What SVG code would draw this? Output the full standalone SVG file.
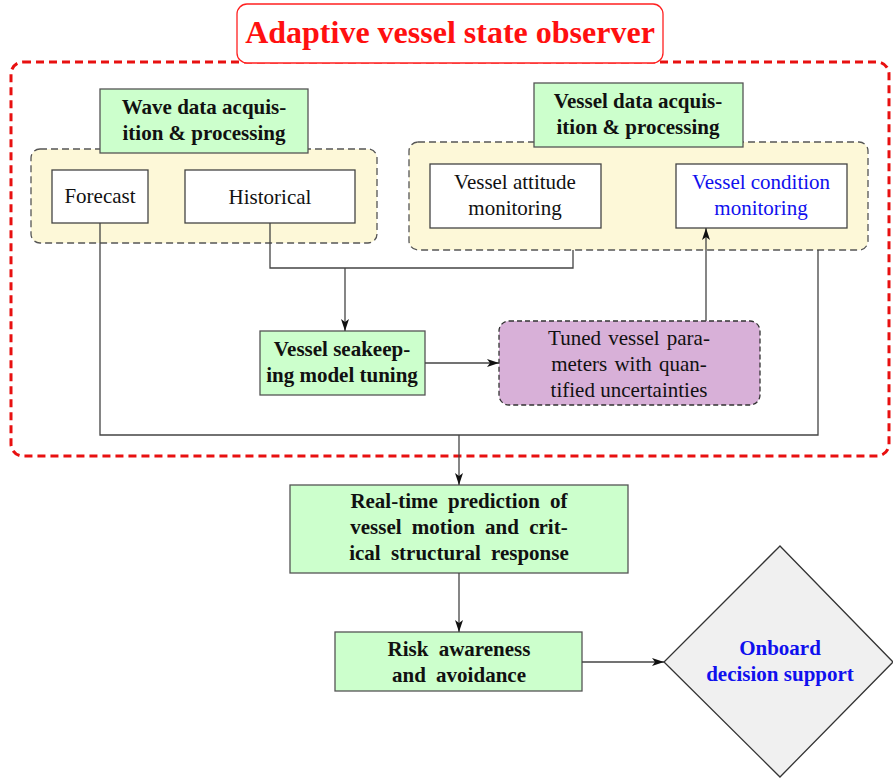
<svg xmlns="http://www.w3.org/2000/svg" width="893" height="780" viewBox="0 0 893 780">
  <defs>
    <marker id="arr" viewBox="0 0 12 8" refX="12" refY="4" markerWidth="12" markerHeight="8" markerUnits="userSpaceOnUse" orient="auto">
      <path d="M0,0 L12,4 L0,8 L3,4 Z" fill="#111"/>
    </marker>
  </defs>
  <style>
    text { font-family: 'Liberation Serif', 'DejaVu Serif', serif; font-size: 21px; text-anchor: middle; fill: #111; }
    .b { font-weight: bold; }
    .green { fill: #ccffcc; stroke: #555; stroke-width: 1.3; }
    .white { fill: #fff; stroke: #444; stroke-width: 1.3; }
    .group { fill: #fdf8d8; stroke: #555; stroke-width: 1.3; stroke-dasharray: 7 4; }
    .conn { fill: none; stroke: #444; stroke-width: 1.3; }
    .blue { fill: #1010ee; }
  </style>
  <rect width="893" height="780" fill="#fff"/>

  <!-- outer observer frame -->
  <g id="observer">
    <rect x="11" y="62" width="878" height="394" rx="12" fill="none" stroke="#e81010" stroke-width="3" stroke-dasharray="8 5"/>
    <rect x="237" y="4" width="426" height="59" rx="10" fill="#fff" stroke="#ff2020" stroke-width="1.3"/>
    <text x="450" y="43" class="b" style="font-size:32px;fill:#ff1010">Adaptive vessel state observer</text>
  </g>

  <!-- wave data group -->
  <g id="wave-data">
    <rect x="31" y="149" width="346" height="94" rx="9" class="group"/>
    <rect x="100" y="89" width="208" height="64" class="green"/>
    <text x="204" y="114" class="b">Wave data acquis-</text>
    <text x="204" y="140" class="b">ition &amp; processing</text>
  </g>
  <g id="forecast">
    <rect x="52" y="170" width="96" height="53" class="white"/>
    <text x="100" y="203">Forecast</text>
  </g>
  <g id="historical">
    <rect x="185" y="170" width="170" height="53" class="white"/>
    <text x="270" y="204">Historical</text>
  </g>

  <!-- vessel data group -->
  <g id="vessel-data">
    <rect x="409" y="142" width="459" height="108" rx="9" class="group"/>
    <rect x="534" y="83" width="209" height="64" class="green"/>
    <text x="638" y="108" class="b">Vessel data acquis-</text>
    <text x="638" y="134" class="b">ition &amp; processing</text>
  </g>
  <g id="attitude">
    <rect x="430" y="164" width="171" height="64" class="white"/>
    <text x="515" y="189">Vessel attitude</text>
    <text x="515" y="215">monitoring</text>
  </g>
  <g id="condition">
    <rect x="676" y="164" width="171" height="64" class="white"/>
    <text x="761" y="189" class="blue">Vessel condition</text>
    <text x="761" y="215" class="blue">monitoring</text>
  </g>

  <!-- model tuning -->
  <g id="tuning">
    <rect x="260" y="331" width="165" height="64" class="green"/>
    <text x="342" y="356" class="b">Vessel seakeep-</text>
    <text x="342" y="382" class="b">ing model tuning</text>
  </g>
  <g id="tuned-params">
    <rect x="499" y="321" width="261" height="84" rx="10" fill="#d8b0d8" stroke="#333" stroke-width="1.3" stroke-dasharray="5 3"/>
    <text x="629" y="345" style="word-spacing:2px">Tuned vessel para-</text>
    <text x="629" y="371" style="word-spacing:2px">meters with quan-</text>
    <text x="629" y="397">tified uncertainties</text>
  </g>

  <!-- downstream -->
  <g id="prediction">
    <rect x="290" y="485" width="338" height="88" class="green"/>
    <text x="459" y="508" class="b" style="word-spacing:5px">Real-time prediction of</text>
    <text x="459" y="534" class="b" style="word-spacing:5px">vessel motion and crit-</text>
    <text x="459" y="560" class="b" style="word-spacing:5px">ical structural response</text>
  </g>
  <g id="risk">
    <rect x="335" y="632" width="247" height="59" class="green"/>
    <text x="459" y="656" class="b" style="word-spacing:5px">Risk awareness</text>
    <text x="459" y="682" class="b" style="word-spacing:5px">and avoidance</text>
  </g>
  <g id="decision">
    <polygon points="780,546 893,662 780,777 664,662" fill="#f0f0f0" stroke="#333" stroke-width="1.3"/>
    <text x="780" y="655" class="b blue">Onboard</text>
    <text x="780" y="681" class="b blue">decision support</text>
  </g>

  <!-- connectors -->
  <g id="connectors">
    <path class="conn" d="M270,223 V268 H573 V250"/>
    <path class="conn" d="M345,268 V331" marker-end="url(#arr)"/>
    <path class="conn" d="M100,223 V435 H818 V250"/>
    <path class="conn" d="M425,363 H499" marker-end="url(#arr)"/>
    <path class="conn" d="M706,321 V228" marker-end="url(#arr)"/>
    <path class="conn" d="M459,435 V485" marker-end="url(#arr)"/>
    <path class="conn" d="M459,573 V632" marker-end="url(#arr)"/>
    <path class="conn" d="M582,662 H664" marker-end="url(#arr)"/>
  </g>
</svg>
